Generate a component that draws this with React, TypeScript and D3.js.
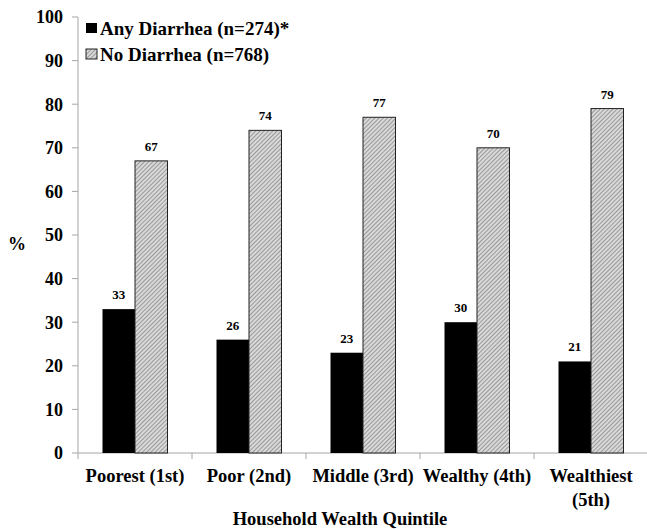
import React from "react";
import * as d3 from "d3";

const categories = ["Poorest (1st)", "Poor (2nd)", "Middle (3rd)", "Wealthy (4th)", "Wealthiest\n(5th)"];
const anyDiarrhea = [33, 26, 23, 30, 21];
const noDiarrhea = [67, 74, 77, 70, 79];
const yTicks = [0, 10, 20, 30, 40, 50, 60, 70, 80, 90, 100];
const seriesNames = ["Any Diarrhea (n=274)*", "No Diarrhea (n=768)"];

const W = 647, H = 529;
const left = 78, right = 648, top = 17, bottom = 453;
const font = "Liberation Serif, Times New Roman, serif";

export default function App() {
  const x = d3.scaleBand<string>().domain(categories).range([left, right]).paddingInner(0).paddingOuter(0);
  const y = d3.scaleLinear().domain([0, 100]).range([bottom, top]);
  const bw = 32.5;
  const series = [
    { name: seriesNames[0], values: anyDiarrhea, fill: "#000" },
    { name: seriesNames[1], values: noDiarrhea, fill: "url(#hatch)" },
  ];
  const boundaries = categories.map((c) => x(c)!).concat([right]);
  return (
    <svg width={W} height={H} style={{ position: "absolute", left: 0, top: 0, background: "#fff" }} fontFamily={font}>
      <defs>
        <pattern id="hatch" patternUnits="userSpaceOnUse" width={3} height={3} patternTransform="rotate(45)">
          <rect width={3} height={3} fill="#d9d9d9" />
          <line x1={0} y1={0} x2={0} y2={3} stroke="#5a5a5a" strokeWidth={1} />
        </pattern>
      </defs>
      <rect width={W} height={H} fill="#fff" />
      {/* y axis */}
      <line x1={left} x2={left} y1={top} y2={bottom} stroke="#a6a6a6" strokeWidth={1} />
      {yTicks.map((t) => (
        <g key={t}>
          <line x1={left - 6} x2={left} y1={y(t)} y2={y(t)} stroke="#a6a6a6" />
          <text x={left - 15} y={y(t)} dy="0.35em" textAnchor="end" fontSize={18} fontWeight="bold">{t}</text>
        </g>
      ))}
      {/* x axis */}
      <line x1={left} x2={right} y1={bottom} y2={bottom} stroke="#a6a6a6" />
      {boundaries.map((b, i) => (
        <line key={i} x1={b} x2={b} y1={bottom} y2={bottom + 6} stroke="#a6a6a6" />
      ))}
      {/* bars */}
      {categories.map((c, i) => {
        const cx = x(c)! + x.bandwidth() / 2;
        return series.map((s, j) => {
          const bx = cx - bw + j * bw;
          const v = s.values[i];
          return (
            <g key={c + j}>
              <rect x={bx} y={y(v)} width={bw} height={bottom - y(v)} fill={s.fill} stroke={j === 1 ? "#222" : "none"} strokeWidth={1} />
              <text x={bx + bw / 2} y={y(v) - 10} textAnchor="middle" fontSize={13} fontWeight="bold">{v}</text>
            </g>
          );
        });
      })}
      {/* category labels */}
      {categories.map((c) => {
        const cx = x(c)! + x.bandwidth() / 2;
        const lines = c.split("\n");
        return (
          <text key={c} x={cx} y={482} textAnchor="middle" fontSize={18.5} fontWeight="bold">
            {lines.map((l, k) => (
              <tspan key={k} x={cx} dy={k === 0 ? 0 : 24}>{l}</tspan>
            ))}
          </text>
        );
      })}
      <text x={340} y={525} textAnchor="middle" fontSize={18.5} fontWeight="bold">Household Wealth Quintile</text>
      <text x={17} y={250} textAnchor="middle" fontSize={18} fontWeight="bold">%</text>
      {/* legend */}
      {series.map((s, j) => (
        <g key={s.name}>
          <rect x={86} y={23 + j * 26} width={11} height={10} fill={s.fill} stroke={j === 1 ? "#222" : "none"} />
          <text x={100} y={35 + j * 26} fontSize={19} fontWeight="bold">{s.name}</text>
        </g>
      ))}
    </svg>
  );
}
